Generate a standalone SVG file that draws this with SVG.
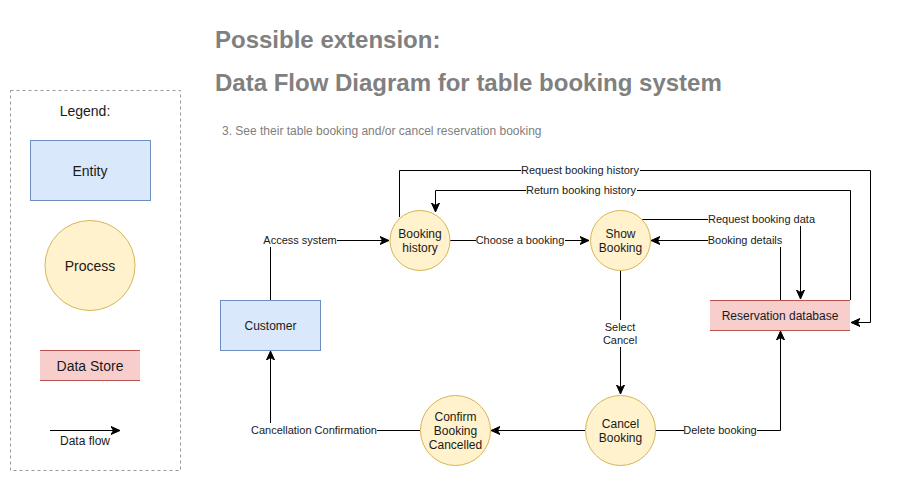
<svg xmlns="http://www.w3.org/2000/svg" width="911" height="482" viewBox="0 0 911 482">
<style>
text{font-family:"Liberation Sans",Arial,sans-serif;fill:#1a1a1a;text-anchor:middle}
.ent{fill:#dae8fc;stroke:#6c8ebf;stroke-width:1}
.proc{fill:#fff2cc;stroke:#d6b656;stroke-width:1}
.ds{fill:#f8cecc;stroke:none}
.dsl{stroke:#b85450;stroke-width:1}
.n{font-size:12px}
.lg{font-size:14px}
.el{font-size:11px}
.edge{fill:none;stroke:#000;stroke-width:1}
.bg{fill:#fff}
.title{font-size:24px;font-weight:bold;fill:#808080;text-anchor:start}
</style>
<defs>
<marker id="ah" viewBox="0 0 10 10" refX="9" refY="5" markerWidth="10" markerHeight="10" markerUnits="userSpaceOnUse" orient="auto">
<path d="M0,1 L9,5 L0,9 L2.5,5 z" fill="#000" stroke="#000" stroke-width="1"/>
</marker>
</defs>
<rect width="911" height="482" fill="#fff"/>

<g id="titles">
<text class="title" x="215" y="48">Possible extension:</text>
<text class="title" x="215" y="91">Data Flow Diagram for table booking system</text>
<text x="222" y="135" style="font-size:12px;fill:#808080;text-anchor:start">3. See their table booking and/or cancel reservation booking</text>
</g>

<g id="legend">
<rect x="10.5" y="90.5" width="170" height="380" fill="none" stroke="#999" stroke-dasharray="3,3"/>
<text class="lg" x="85" y="116">Legend:</text>
<rect class="ent" x="30.5" y="140.5" width="120" height="60"/>
<text class="lg" x="90" y="176">Entity</text>
<circle class="proc" cx="90" cy="265.5" r="45"/>
<text class="lg" x="90" y="271">Process</text>
<rect class="ds" x="40" y="350" width="100" height="30"/>
<line class="dsl" x1="40" y1="350.5" x2="140" y2="350.5"/>
<line class="dsl" x1="40" y1="380.5" x2="140" y2="380.5"/>
<text class="lg" x="90" y="371">Data Store</text>
<line class="edge" x1="50" y1="430.5" x2="120" y2="430.5" marker-end="url(#ah)"/>
<text class="n" x="85" y="445">Data flow</text>
</g>

<g id="connectors">
<path class="edge" d="M270.5,300 V240.5 H389" marker-end="url(#ah)"/>
<path class="edge" d="M450,240.5 H589" marker-end="url(#ah)"/>
<path class="edge" d="M399.5,217 V170.5 H870.5 V322.5 H851" marker-end="url(#ah)"/>
<path class="edge" d="M850.5,300 V190.5 H435.5 V212" marker-end="url(#ah)"/>
<path class="edge" d="M642,219.5 H800.5 V299" marker-end="url(#ah)"/>
<path class="edge" d="M780.5,300 V240.5 H651" marker-end="url(#ah)"/>
<path class="edge" d="M620.5,270 V394" marker-end="url(#ah)"/>
<path class="edge" d="M655,430.5 H780.5 V331" marker-end="url(#ah)"/>
<path class="edge" d="M585,430.5 H491" marker-end="url(#ah)"/>
<path class="edge" d="M420,430.5 H270.5 V351" marker-end="url(#ah)"/>
<g id="edge-labels">
<rect class="bg" x="263" y="233" width="74" height="14"/>
<text class="el" x="300" y="244">Access system</text>
<rect class="bg" x="476" y="233" width="89" height="14"/>
<text class="el" x="520" y="244">Choose a booking</text>
<rect class="bg" x="521" y="163" width="119" height="14"/>
<text class="el" x="580" y="174">Request booking history</text>
<rect class="bg" x="526" y="183" width="111" height="14"/>
<text class="el" x="581" y="194">Return booking history</text>
<rect class="bg" x="708" y="212" width="108" height="14"/>
<text class="el" x="761.5" y="223">Request booking data</text>
<rect class="bg" x="708" y="233" width="75" height="14"/>
<text class="el" x="745" y="244">Booking details</text>
<rect class="bg" x="600" y="320" width="41" height="27"/>
<text class="el" x="620" y="331">Select</text>
<text class="el" x="620" y="344">Cancel</text>
<rect class="bg" x="684" y="423" width="73" height="14"/>
<text class="el" x="720" y="434">Delete booking</text>
<rect class="bg" x="251" y="423" width="126" height="14"/>
<text class="el" x="314" y="434">Cancellation Confirmation</text>
</g>
</g>

<g id="customer">
<rect class="ent" x="220.5" y="300.5" width="100" height="50"/>
<text class="n" x="270.5" y="330">Customer</text>
</g>
<g id="booking-history">
<circle class="proc" cx="420" cy="240.5" r="30"/>
<text class="n" x="420" y="238">Booking</text>
<text class="n" x="420" y="252">history</text>
</g>
<g id="show-booking">
<circle class="proc" cx="620.5" cy="240.5" r="30"/>
<text class="n" x="620.5" y="238">Show</text>
<text class="n" x="620.5" y="252">Booking</text>
</g>
<g id="reservation-database">
<rect class="ds" x="710" y="300" width="140" height="30"/>
<line class="dsl" x1="710" y1="300.5" x2="850" y2="300.5"/>
<line class="dsl" x1="710" y1="330.5" x2="850" y2="330.5"/>
<text class="n" x="780" y="320">Reservation database</text>
</g>
<g id="cancel-booking">
<circle class="proc" cx="620.5" cy="430.5" r="35"/>
<text class="n" x="620.5" y="428">Cancel</text>
<text class="n" x="620.5" y="442">Booking</text>
</g>
<g id="confirm-booking-cancelled">
<circle class="proc" cx="455.5" cy="430.5" r="35"/>
<text class="n" x="455.5" y="421">Confirm</text>
<text class="n" x="455.5" y="435">Booking</text>
<text class="n" x="455.5" y="449">Cancelled</text>
</g>
</svg>
